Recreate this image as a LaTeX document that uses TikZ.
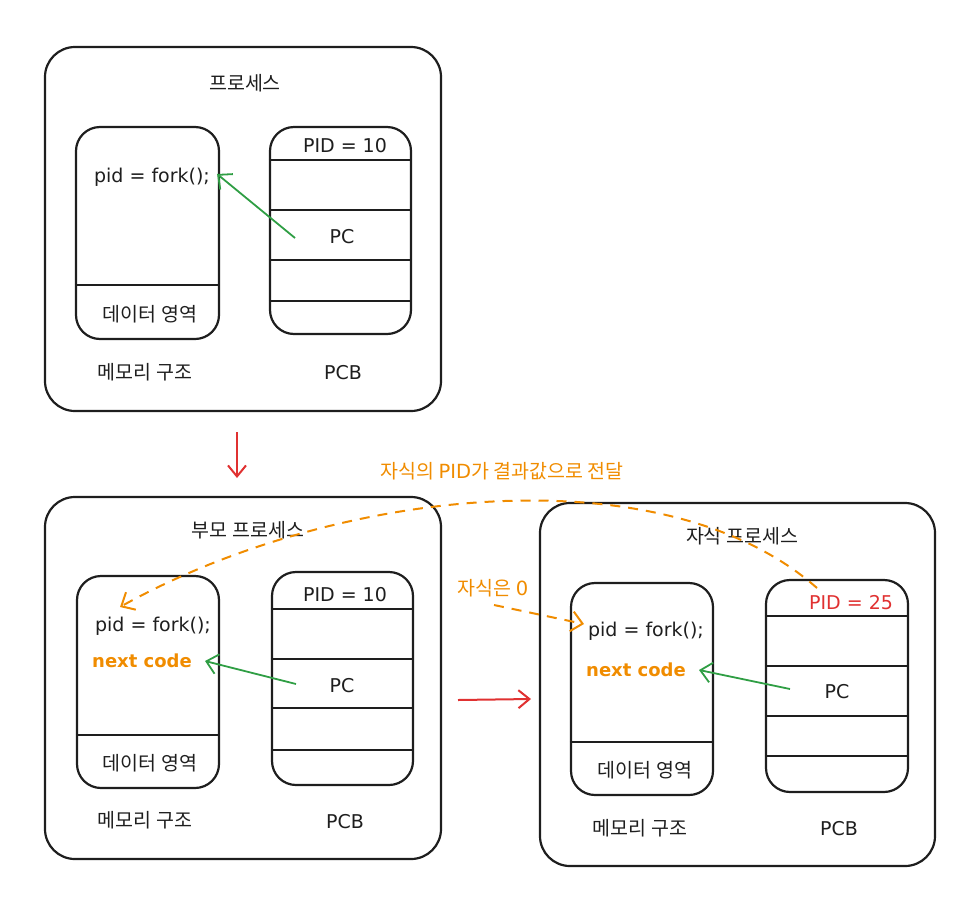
\documentclass[tikz,border=0pt]{standalone}
\usepackage{fontspec}
\setmainfont{Noto Sans CJK KR}
\newfontfamily\lat{DejaVu Sans}
\usetikzlibrary{arrows.meta}
\definecolor{exorange}{HTML}{F08C00}
\definecolor{exred}{HTML}{E03131}
\definecolor{exgreen}{HTML}{2F9E44}
\definecolor{exblack}{HTML}{1E1E1E}
\tikzset{
  outerbox/.style={draw=exblack, line width=2.2pt, rounded corners=30pt, minimum width=#1, inner sep=0pt},
  innerbox/.style={draw=exblack, line width=2.2pt, rounded corners=24pt, inner sep=0pt},
  divider/.style={draw=exblack, line width=2pt},
  ktxt/.style={font=\fontsize{19.5}{22}\selectfont, text=exblack, inner sep=1pt},
  ltxt/.style={font=\lat\fontsize{19}{22}\selectfont, text=exblack, inner sep=1pt},
  otxt/.style={font=\lat\bfseries\fontsize{18}{22}\selectfont, text=exorange, inner sep=1pt},
  garrow/.style={draw=exgreen, line width=1.8pt, -{Straight Barb[length=11pt,width=20pt,line width=1.8pt]}},
  rarrow/.style={draw=exred, line width=2pt, -{Straight Barb[length=11pt,width=18pt,line width=2pt]}},
  odash/.style={draw=exorange, line width=2pt, dash pattern=on 10pt off 8pt, -{Straight Barb[length=11pt,width=20pt,line width=2pt]}},
}
\begin{document}
\begin{tikzpicture}[x=1pt,y=-1pt]
\useasboundingbox (0,0) rectangle (972,919);

% ---------- top process ----------
\node[outerbox=396pt, minimum height=364pt] (outer1) at (243,229) {};
\node[innerbox, minimum width=143pt, minimum height=212pt] (mem1) at (147.5,233) {};
\node[innerbox, minimum width=141pt, minimum height=207pt] (pcb1) at (340.5,230.5) {};
\draw[divider] (mem1.west |- 0,285) -- (mem1.east |- 0,285);
\foreach \yy in {160,210,260,301} \draw[divider] (pcb1.west |- 0,\yy) -- (pcb1.east |- 0,\yy);
\node[ktxt] (t1) at (245,83) {프로세스};
\node[ltxt] (code1) at (152,177) {pid = fork();};
\node[ktxt] (data1) at (150,314) {데이터 영역};
\node[ltxt] (pid1) at (345,146) {PID = 10};
\node[ltxt] (pc1) at (342,237) {PC};
\node[ktxt] (memlab1) at (145,372) {메모리 구조};
\node[ltxt] (pcblab1) at (343,373) {PCB};
\draw[garrow] ([xshift=-47pt,yshift=-1pt]pc1.center) -- ([xshift=6pt,yshift=3pt]code1.east);

% ---------- arrow down ----------
\coordinate (d1) at (237,432);
\coordinate (d2) at (237,478);
\draw[rarrow] (d1) -- (d2);

% ---------- parent process ----------
\node[outerbox=396pt, minimum height=362pt] (outer2) at (243,678) {};
\node[innerbox, minimum width=142pt, minimum height=212pt] (mem2) at (148,682) {};
\node[innerbox, minimum width=141pt, minimum height=213pt] (pcb2) at (342.5,678.5) {};
\draw[divider] (mem2.west |- 0,735) -- (mem2.east |- 0,735);
\foreach \yy in {609,659,708,750} \draw[divider] (pcb2.west |- 0,\yy) -- (pcb2.east |- 0,\yy);
\node[ktxt] (t2) at (248,530) {부모 프로세스};
\node[ltxt] (code2) at (153,626) {pid = fork();};
\node[otxt] (next2) at (142,661) {next code};
\node[ktxt] (data2) at (150,763) {데이터 영역};
\node[ltxt] (pid2) at (345,595) {PID = 10};
\node[ltxt] (pc2) at (342,686) {PC};
\node[ktxt] (memlab2) at (145,820) {메모리 구조};
\node[ltxt] (pcblab2) at (345,822) {PCB};
\draw[garrow] ([xshift=-46pt,yshift=2pt]pc2.center) -- ([xshift=12pt]next2.east);

% ---------- arrow right ----------
\coordinate (r1) at (458,700);
\coordinate (r2) at (531,699);
\draw[rarrow] (r1) -- (r2);

% ---------- child process ----------
\node[outerbox=395pt, minimum height=363pt] (outer3) at (737.5,684.5) {};
\node[innerbox, minimum width=142pt, minimum height=212pt] (mem3) at (642,689) {};
\node[innerbox, minimum width=142pt, minimum height=212pt] (pcb3) at (837,686) {};
\draw[divider] (mem3.west |- 0,742) -- (mem3.east |- 0,742);
\foreach \yy in {616,666,716,756} \draw[divider] (pcb3.west |- 0,\yy) -- (pcb3.east |- 0,\yy);
\node[ktxt] (t3) at (742,536) {자식 프로세스};
\node[ltxt] (code3) at (646,631) {pid = fork();};
\node[otxt] (next3) at (636,670) {next code};
\node[ktxt] (data3) at (645,770) {데이터 영역};
\node[ltxt, text=exred] (pid3) at (851,603) {PID = 25};
\node[ltxt] (pc3) at (837,692) {PC};
\node[ktxt] (memlab3) at (640,828) {메모리 구조};
\node[ltxt] (pcblab3) at (839,829) {PCB};
\draw[garrow] ([xshift=-47pt,yshift=3pt]pc3.center) -- ([xshift=12pt]next3.east);

% ---------- orange annotations ----------
\node[ktxt, text=exorange] (lab1) at (502,471) {자식의 {\lat PID}가 결과값으로 전달};
\node[ktxt, text=exorange] (lab2) at (493,588) {자식은 {\lat 0}};
\coordinate (cs) at (817,588);
\coordinate (ce) at (120,607);
\draw[odash] (cs) .. controls (660,450) and (330,490) .. (ce);
\coordinate (zs) at (494,605);
\coordinate (ze) at (584,624);
\draw[odash] (zs) -- (ze);
\end{tikzpicture}
\end{document}
